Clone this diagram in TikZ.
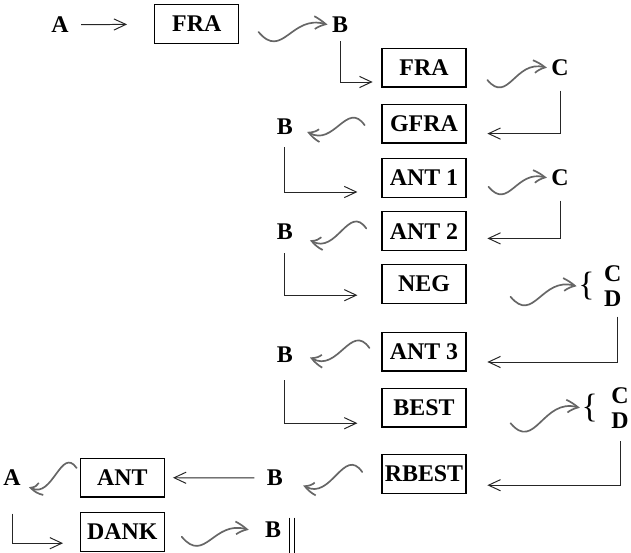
\documentclass[tikz,border=0pt]{standalone}
\usepackage{fontspec}
\setmainfont{Liberation Serif}
\usepackage{tikz}
\usetikzlibrary{arrows.meta,bending,positioning}

\begin{document}
\begin{tikzpicture}[>={Straight Barb[length=3mm,width=2.8mm]},
 font=\fontsize{17}{18}\selectfont\bfseries,
 box/.style={draw=black,line width=0.8pt,minimum width=2.1cm,minimum height=0.97cm,inner sep=2pt},
 lbl/.style={inner sep=3pt},
 brace/.style={inner sep=1pt,font=\fontsize{24}{24}\selectfont},
 link/.style={->,line width=0.7pt,draw=black!85},
 wave/.style={-{Straight Barb[bend,length=3mm,width=3.2mm]},line width=1.2pt,draw=black!60,line cap=round,looseness=1.4},
 rwave/.style={wave,out=-50,in=160},
 lwave/.style={wave,out=125,in=-35}]
\useasboundingbox (0,0) rectangle (15.775,-13.8);
\node[lbl] (a1) at (1.5,-0.62) {A};
\node[box] (fra1) at (4.92,-0.6) {FRA};
\node[lbl] (b1) at (8.5,-0.62) {B};
\node[box] (fra2) at (10.6,-1.69) {FRA};
\node[lbl] (c1) at (14,-1.7) {C};
\node[box] (gfra) at (10.6,-3.09) {GFRA};
\node[lbl] (b2) at (7.12,-3.17) {B};
\node[box] (ant1) at (10.6,-4.45) {ANT 1};
\node[lbl] (c2) at (14,-4.45) {C};
\node[box] (ant2) at (10.6,-5.78) {ANT 2};
\node[lbl] (b3) at (7.12,-5.8) {B};
\node[box] (neg) at (10.6,-7.1) {NEG};
\node[brace] (br1) at (14.66,-7.16) {\{};
\node[lbl,align=center] (cd1) at (15.32,-7.16) {C\\D};
\node[box] (ant3) at (10.6,-8.79) {ANT 3};
\node[lbl] (b4) at (7.12,-8.88) {B};
\node[box] (best) at (10.6,-10.19) {BEST};
\node[brace] (br2) at (14.74,-10.2) {\{};
\node[lbl,align=center] (cd2) at (15.5,-10.21) {C\\D};
\node[box] (rbest) at (10.6,-11.85) {RBEST};
\node[lbl] (b5) at (6.87,-11.95) {B};
\node[box] (ant) at (3.06,-11.94) {ANT};
\node[lbl] (a2) at (0.3,-11.95) {A};
\node[box] (dank) at (3.06,-13.3) {DANK};
\node[lbl] (b6) at (6.83,-13.25) {B};
\draw[link,shorten <=2mm,shorten >=6.8mm] (a1) -- (fra1);
\draw[rwave] ([shift={(0.48,-0.2)}]fra1.east) to (b1.west);
\draw[link,shorten <=1mm,shorten >=2.2mm] (b1.south) |- ([yshift=-3.6mm]fra2.west);
\draw[rwave] ([shift={(0.52,-0.31)}]fra2.east) to (c1.west);
\draw[link,shorten <=2.5mm,shorten >=5.2mm] (c1.south) |- ([yshift=-2.5mm]gfra.east);
\draw[lwave] ([shift={(-0.42,-0.04)}]gfra.west) to ([shift={(0.25,-0.12)}]b2.east);
\draw[link,shorten <=2mm,shorten >=6mm] (b2.south) |- ([yshift=-3.5mm]ant1.west);
\draw[rwave] ([shift={(0.55,-0.22)}]ant1.east) to (c2.west);
\draw[link,shorten <=2.5mm,shorten >=5.2mm] (c2.south) |- ([yshift=-1.8mm]ant2.east);
\draw[lwave] ([shift={(-0.38,0.07)}]ant2.west) to ([shift={(0.32,-0.2)}]b3.east);
\draw[link,shorten <=2.2mm,shorten >=6mm] (b3.south) |- ([yshift=-2.8mm]neg.west);
\draw[rwave] ([shift={(1.1,-0.32)}]neg.east) to (br1.west);
\draw[link,shorten <=1.3mm,shorten >=5.2mm] ([xshift=1.2mm]cd1.south) |- ([yshift=-2.6mm]ant3.east);
\draw[lwave] ([shift={(-0.3,0.09)}]ant3.west) to ([shift={(0.32,-0.05)}]b4.east);
\draw[link,shorten <=3.2mm,shorten >=6mm] (b4.south) |- ([yshift=-3.9mm]best.west);
\draw[rwave] ([shift={(1.1,-0.39)}]best.east) to (br2.west);
\draw[link,shorten <=2mm,shorten >=5.2mm] (cd2.south) |- ([yshift=-2.8mm]rbest.east);
\draw[lwave] ([shift={(-0.48,0.05)}]rbest.west) to ([shift={(0.4,-0.18)}]b5.east);
\draw[link,shorten <=2mm,shorten >=2mm] (b5) -- (ant);
\draw[lwave] ([shift={(-0.08,0.24)}]ant.west) to ([shift={(0.1,-0.22)}]a2.east);
\draw[link,shorten <=5.8mm,shorten >=4.2mm] (a2.south) |- ([yshift=-2.8mm]dank.west);
\draw[rwave] ([shift={(0.42,-0.12)}]dank.east) to ([xshift=-3mm]b6.west);
\draw[line width=0.8pt] ([xshift=1mm]b6.north east) -- ++(0,-0.9)
 ([xshift=2.3mm]b6.north east) -- ++(0,-0.9);
\end{tikzpicture}
\end{document}
